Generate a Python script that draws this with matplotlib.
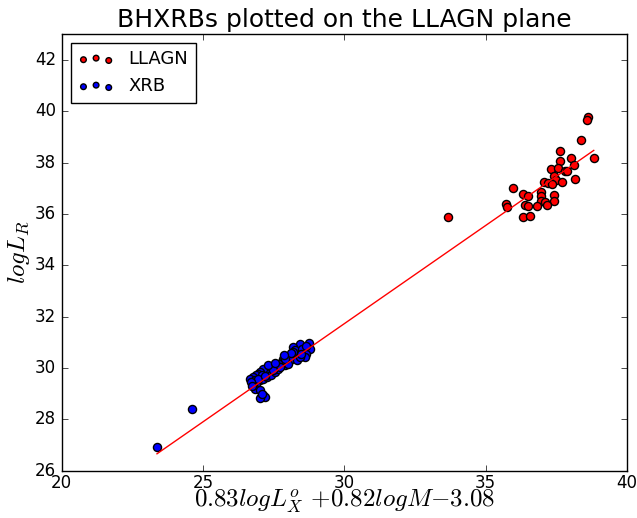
import matplotlib
matplotlib.use("Agg")
import matplotlib.pyplot as plt
import numpy as np

# LLAGN sample (red)
llagn_x = [33.67, 38.63, 38.60, 38.37, 37.64, 38.01, 38.83, 37.65, 38.13, 37.31,
           37.56, 37.81, 37.90, 37.43, 37.50, 37.06, 37.21, 37.35, 37.69, 38.16,
           35.98, 36.34, 36.52, 36.98, 36.95, 37.42, 36.96, 37.12, 37.42, 35.73,
           35.76, 36.39, 36.52, 36.82, 37.17, 36.33, 36.57]
llagn_y = [35.88, 39.77, 39.64, 38.87, 38.47, 38.18, 38.18, 38.05, 37.89, 37.77,
           37.78, 37.69, 37.69, 37.48, 37.32, 37.24, 37.19, 37.15, 37.23, 37.37,
           37.01, 36.78, 36.71, 36.84, 36.71, 36.75, 36.50, 36.48, 36.50, 36.38,
           36.28, 36.34, 36.30, 36.32, 36.36, 35.87, 35.91]

# black hole X-ray binaries (blue)
xrb_x = [23.37, 24.61,
         28.76, 28.42, 28.19, 28.25, 28.52, 28.80, 28.66, 28.60, 28.37, 28.17,
         27.95, 27.83, 28.07, 27.78, 27.69, 27.60, 27.48, 27.36, 27.30, 27.19,
         27.13, 27.03, 26.95, 26.87, 26.77, 26.66, 26.83, 27.01, 27.13, 27.25,
         27.42, 27.54, 27.66, 27.89, 28.01, 28.31, 28.42, 28.48, 28.19, 27.72,
         27.48, 27.07, 26.89, 26.77, 26.83, 27.01, 27.13, 27.19, 27.03, 27.07,
         26.95, 26.71, 27.30, 27.55, 27.90, 28.10, 28.65, 26.75, 27.20, 27.85]
xrb_y = [26.92, 28.41,
         30.99, 30.95, 30.82, 30.69, 30.75, 30.75, 30.56, 30.43, 30.50, 30.47,
         30.43, 30.37, 30.30, 30.24, 30.17, 30.11, 30.04, 30.01, 29.91, 29.85,
         29.98, 29.85, 29.79, 29.72, 29.66, 29.59, 29.53, 29.53, 29.59, 29.66,
         29.72, 29.85, 29.98, 30.11, 30.17, 30.30, 30.43, 30.56, 30.62, 30.04,
         29.91, 29.72, 29.40, 29.33, 29.20, 29.14, 28.97, 28.88, 28.82, 29.01,
         29.59, 29.46, 30.12, 30.20, 30.35, 30.60, 30.85, 29.30, 29.70, 30.50]

# fitted relation y = a*x + b
fit_a = 0.764
fit_b = 8.81

plt.style.use('classic')
fig = plt.figure(figsize=(6.37, 5.18), dpi=100, facecolor='white')
ax = fig.add_axes([0.097, 0.091, 0.887, 0.843])

ax.scatter(llagn_x, llagn_y, s=34, c='red', edgecolors='k', label='LLAGN')
ax.scatter(xrb_x, xrb_y, s=34, c='blue', edgecolors='k', label='XRB')

allx = np.sort(np.array(llagn_x + xrb_x))
ax.plot(allx, fit_a * allx + fit_b, color='red', lw=1)

ax.set_xlim(20, 40)
ax.set_ylim(26, 43)
ax.set_xticks([20, 25, 30, 35, 40])
ax.set_yticks(np.arange(26, 43, 2))
ax.tick_params(axis='x', pad=2)

ax.set_title('BHXRBs plotted on the LLAGN plane', fontsize=18)
ax.set_xlabel(r'$0.83 log L_X^o$ $+0.82 log M$$-3.08$', fontsize=18, labelpad=-3)
ax.set_ylabel(r'$log L_R$', fontsize=18, labelpad=2)
ax.legend(loc='upper left', scatterpoints=3, scatteryoffsets=[0.375, 0.5, 0.3125],
          fontsize=13, markerscale=0.7)

fig.savefig('out.png', dpi=100, facecolor='white')
